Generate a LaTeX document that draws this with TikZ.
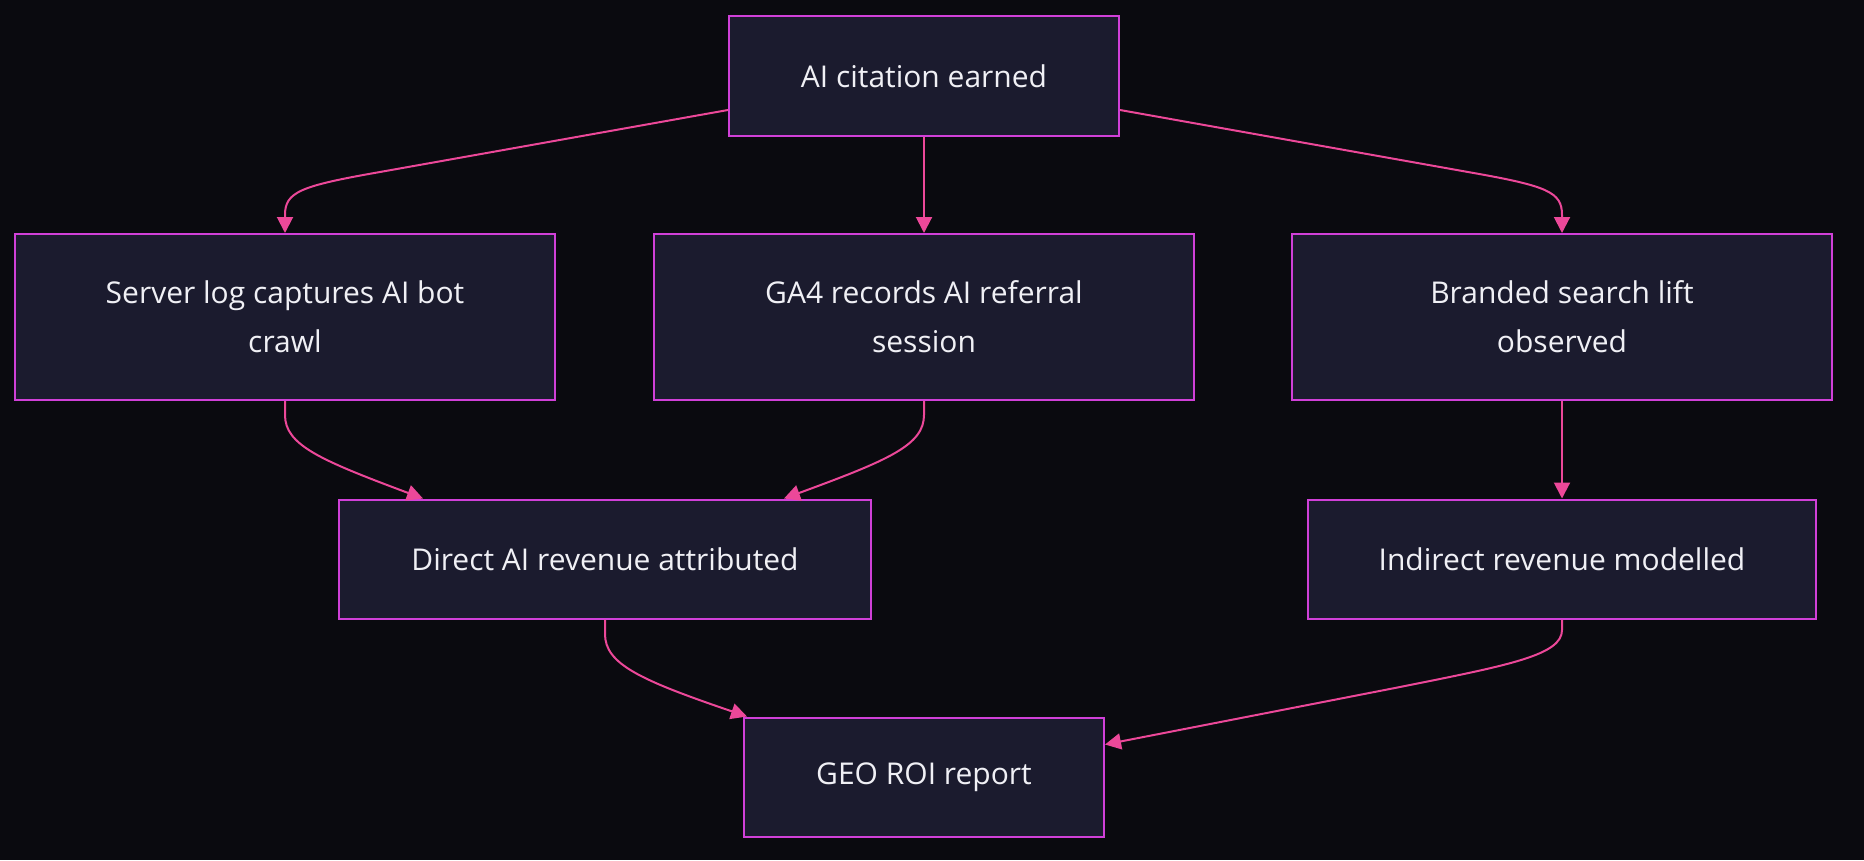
\documentclass[tikz,border=0pt]{standalone}
\usepackage{fontspec}
\setmainfont{Open Sans}
\usetikzlibrary{arrows.meta}
\definecolor{bgc}{HTML}{0A0A0F}
\definecolor{boxfill}{HTML}{1B1B2E}
\definecolor{boxline}{HTML}{D040D8}
\definecolor{edgec}{HTML}{EC4899}
\definecolor{txt}{HTML}{F0F0F5}
\tikzset{
  flowbox/.style={draw=boxline, line width=2pt, fill=boxfill, text=txt, align=center,
    font=\fontsize{30}{49}\selectfont, inner sep=0pt},
  flowedge/.style={draw=edgec, line width=2pt, -{Triangle[length=16pt,width=16pt]}},
}
\begin{document}
\begin{tikzpicture}[x=1pt,y=-1pt]
\fill[bgc] (0,0) rectangle (1864,860);
\useasboundingbox (0,0) rectangle (1864,860);
\node[flowbox, minimum width=390pt, minimum height=120pt] (top) at (924,76) {AI citation earned};
\node[flowbox, minimum width=540pt, minimum height=166pt] (srv) at (285,317) {Server log captures AI bot\\crawl};
\node[flowbox, minimum width=540pt, minimum height=166pt] (ga) at (924,317) {GA4 records AI referral\\session};
\node[flowbox, minimum width=540pt, minimum height=166pt] (brd) at (1562,317) {Branded search lift\\observed};
\node[flowbox, minimum width=532pt, minimum height=119pt] (dir) at (605,559) {Direct AI revenue attributed};
\node[flowbox, minimum width=508pt, minimum height=119pt] (ind) at (1562,559) {Indirect revenue modelled};
\node[flowbox, minimum width=360pt, minimum height=119pt] (geo) at (924,777) {GEO ROI report};

\draw[flowedge] ([yshift=-34pt]top.west) -- (380,172) .. controls (300,186) and (285,192) .. (285,215) -- (srv.north);
\draw[flowedge] (top.south) -- (ga.north);
\draw[flowedge] ([yshift=-34pt]top.east) -- (1468,172) .. controls (1548,186) and (1562,192) .. (1562,215) -- (brd.north);
\draw[flowedge] (srv.south) -- (285,415) .. controls (285,445) and (320,460) .. ([xshift=85pt]dir.north west);
\draw[flowedge] (ga.south) -- (924,415) .. controls (924,445) and (889,460) .. ([xshift=-88pt]dir.north east);
\draw[flowedge] (brd.south) -- (ind.north);
\draw[flowedge] (dir.south) -- (605,634) .. controls (605,664) and (640,680) .. ([xshift=4pt]geo.north west);
\draw[flowedge] (ind.south) -- (1562,630) .. controls (1562,655) and (1510,665) .. (1400,687) -- ([yshift=-28pt]geo.north east);
\end{tikzpicture}
\end{document}
